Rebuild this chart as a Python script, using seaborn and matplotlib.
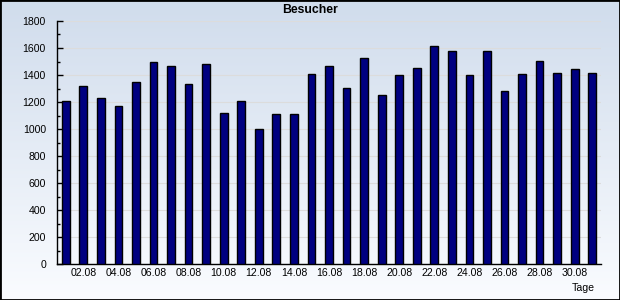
import numpy as np
import pandas as pd
import matplotlib
matplotlib.use("Agg")
import matplotlib.pyplot as plt
import seaborn as sns
from matplotlib.patches import Rectangle

sns.set_theme(style="white")
plt.rcParams['font.family'] = ['Liberation Sans', 'DejaVu Sans']

days = [f"{d:02d}.08" for d in range(1, 32)]
visitors = [1210, 1320, 1230, 1170, 1350, 1500, 1470, 1335, 1480, 1120,
            1210, 1000, 1110, 1110, 1410, 1470, 1305, 1525, 1250, 1400,
            1450, 1615, 1580, 1400, 1580, 1280, 1410, 1505, 1415, 1445, 1415]
title = "Besucher"
x_label = "Tage"
y_ticks = list(range(0, 1801, 200))

df = pd.DataFrame({"Tag": days, "Besucher": visitors})

fig = plt.figure(figsize=(6.2, 3.0), dpi=100)

# gradient background
bg = fig.add_axes([0, 0, 1, 1], zorder=-10)
grad = np.linspace(0, 1, 256).reshape(-1, 1)
top = np.array([0xd0, 0xdc, 0xec]) / 255
bot = np.array([0xfa, 0xfc, 0xff]) / 255
img = top + (bot - top) * grad[:, :, None]
bg.imshow(img, aspect="auto", extent=[0, 1, 0, 1], origin="upper")
bg.set_axis_off()

ax = fig.add_axes([57/620, 36/300, 544/620, 243/300])
ax.set_facecolor("none")
sns.barplot(data=df, x="Tag", y="Besucher", color="#000080", saturation=1,
            edgecolor="black", linewidth=1, width=0.44, ax=ax, zorder=3)

ax.set_xlim(-0.5, len(days) - 0.5)
ax.set_ylim(0, 1800)
ax.set_yticks(y_ticks)
ax.set_yticks(range(100, 1800, 200), minor=True)
ax.yaxis.grid(True, which="major", color="#dcdcdc", linewidth=0.8, zorder=0)
ax.set_axisbelow(True)

# x labels on even days, ticks at category boundaries
lab_pos = list(range(1, len(days), 2))
ax.set_xticks(lab_pos)
ax.set_xticklabels([days[i] for i in lab_pos])
ax.set_xticks([i - 0.5 for i in range(len(days) + 1)], minor=True)
ax.tick_params(axis="x", which="major", length=0, pad=3, labelsize=7.6, colors="black")
ax.tick_params(axis="x", which="minor", direction="in", length=4, width=1, color="black")
ax.tick_params(axis="y", which="major", direction="in", length=4.5, width=1, pad=8,
               labelsize=7.6, color="black", labelcolor="black")
ax.tick_params(axis="y", which="minor", direction="in", length=2.5, width=1, color="black", left=True)
ax.xaxis.set_tick_params(bottom=True)
ax.yaxis.set_tick_params(left=True)

for s in ["top", "right"]:
    ax.spines[s].set_visible(False)
for s in ["left", "bottom"]:
    ax.spines[s].set_color("black")
    ax.spines[s].set_linewidth(1)

ax.set_xlabel("")
ax.set_ylabel("")

fig.text(310/620, 1 - 10/300, title, ha="center", va="center", fontsize=8.8,
         fontweight="bold", color="black")
fig.text(583/620, 1 - 288/300, x_label, ha="center", va="center", fontsize=7.6, color="black")

fig.patches.append(Rectangle((0, 0), 1, 1, transform=fig.transFigure, fill=False,
                             edgecolor="black", linewidth=2, zorder=100))

fig.savefig("out.png", dpi=100)
